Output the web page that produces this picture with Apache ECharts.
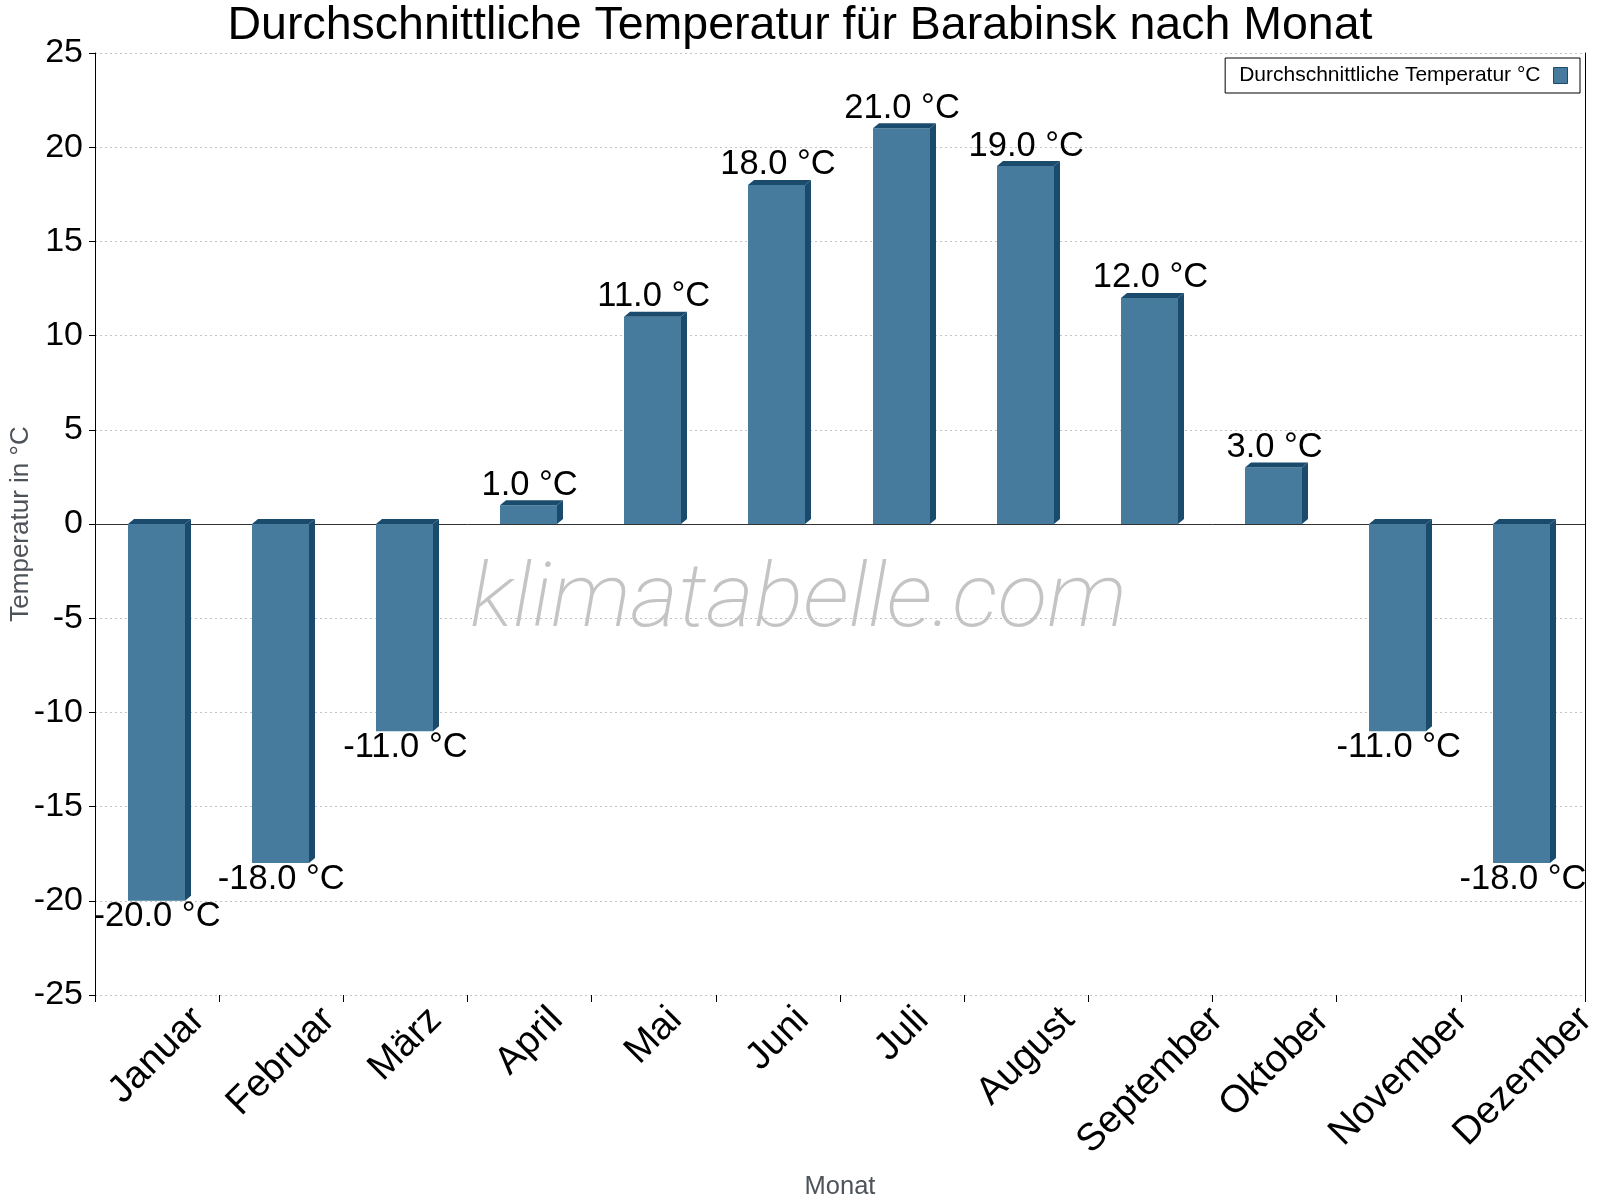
<!DOCTYPE html>
<html><head><meta charset="utf-8">
<script src="https://cdn.jsdelivr.net/npm/echarts@6/dist/echarts.min.js"></script>
<style>html,body{margin:0;padding:0;background:#fff}#c{width:1600px;height:1200px}</style>
</head><body><div id="c"></div>
<script>
const months = ['Januar','Februar','März','April','Mai','Juni','Juli','August','September','Oktober','November','Dezember'];
const temps = [-20, -18, -11, 1, 11, 18, 21, 19, 12, 3, -11, -18];
const seriesName = 'Durchschnittliche Temperatur °C';
const titleText = 'Durchschnittliche Temperatur für Barabinsk nach Monat';

const FONT = '"Liberation Sans", Arial, sans-serif';
const FRONT = '#467b9d';
const DARK = '#1a4b6d';
const XFS = 38.5;

const mc = document.createElement('canvas').getContext('2d');
mc.font = XFS + 'px "Liberation Sans"';
const rich = {};
months.forEach((m, i) => {
  const L = mc.measureText(m).width;
  const P = 0.5 * L;
  rich['l' + i] = {fontSize: XFS, fontFamily: FONT, color: '#000', padding: [P, P, 0, 0]};
});

mc.font = 'italic 200 88px Roboto';
const wmW = mc.measureText('klimatabelle.com').width;
const wmScale = 657 / wmW;

const chart = echarts.init(document.getElementById('c'), null, {renderer: 'canvas'});
chart.setOption({
  animation: false,
  backgroundColor: '#fff',
  title: {
    text: titleText, left: 'center', top: -2,
    textStyle: {fontSize: 46.5, fontWeight: 'normal', color: '#000', fontFamily: FONT}
  },
  legend: {
    right: 20, top: 58,
    orient: 'horizontal', align: 'right',
    borderColor: '#000', borderWidth: 1, borderRadius: 0,
    padding: [7, 12, 7, 14],
    itemWidth: 14, itemHeight: 16,
    textStyle: {fontSize: 21, color: '#000', fontFamily: FONT, padding: [0, 8, 0, 0]},
    data: [{name: seriesName, icon: 'rect', itemStyle: {color: FRONT, borderColor: DARK, borderWidth: 1}}]
  },
  graphic: [{
    type: 'text', left: 470, top: 560, z: 0, silent: true,
    scaleX: wmScale,
    style: {text: 'klimatabelle.com', font: 'italic 200 88px Roboto', fill: '#c4c4c4'}
  }],
  grid: {left: 95, top: 53, width: 1490, height: 942, containLabel: false, outerBoundsMode: 'none'},
  xAxis: {
    type: 'category', data: months, position: 'bottom',
    axisLine: {show: false, onZero: false},
    axisTick: {show: true, length: 7, inside: false, lineStyle: {color: '#000'}},
    axisLabel: {
      interval: 0, rotate: 45, align: 'center', verticalAlign: 'middle', margin: 19,
      formatter: (v, i) => '{l' + i + '|' + v + '}', rich: rich
    },
    name: 'Monat', nameLocation: 'middle', nameGap: 179, nameMoveOverlap: false,
    nameTextStyle: {fontSize: 25.5, color: '#4d5359', fontFamily: FONT}
  },
  yAxis: [{
    type: 'value', min: -25, max: 25, interval: 5,
    axisLine: {show: true, lineStyle: {color: '#000'}},
    axisTick: {show: true, length: 6, lineStyle: {color: '#000'}},
    axisLabel: {fontSize: 34, color: '#000', fontFamily: FONT, margin: 12},
    splitLine: {show: true, lineStyle: {color: '#c4c4c4', type: [2, 3], width: 1}},
    name: 'Temperatur in °C', nameLocation: 'middle', nameGap: 61, nameMoveOverlap: false,
    nameTextStyle: {fontSize: 26, color: '#4d5359', fontFamily: FONT}
  }, {
    type: 'value', min: -25, max: 25, interval: 5, position: 'right',
    axisLine: {show: true, lineStyle: {color: '#000'}},
    axisTick: {show: false}, axisLabel: {show: false}, splitLine: {show: false}
  }],
  series: [{
    name: seriesName, type: 'custom', z: 3,
    itemStyle: {color: FRONT},
    data: temps.map((t, i) => [i, t]),
    encode: {x: 0, y: 1},
    renderItem: function (params, api) {
      const idx = api.value(0), v = api.value(1);
      const c = api.coord([idx, v]);
      const z0 = api.coord([idx, 0]);
      const band = api.size([1, 0])[0];
      const w = band * 0.46;
      const x0 = Math.round(c[0] - w / 2 - 1), x1 = Math.round(x0 + w);
      const yTop = Math.min(c[1], z0[1]), yBot = Math.max(c[1], z0[1]);
      const dx = 6, dy = 5;
      const label = v.toFixed(1) + ' °C';
      const ly = v >= 0 ? yTop - 20 : yBot + 16;
      return {
        type: 'group',
        children: [
          {type: 'rect', shape: {x: x0, y: yTop, width: x1 - x0, height: yBot - yTop}, style: {fill: FRONT}},
          {type: 'polygon', shape: {points: [[x0, yTop], [x0 + dx, yTop - dy], [x1 + dx, yTop - dy], [x1, yTop]]}, style: {fill: DARK}},
          {type: 'polygon', shape: {points: [[x1, yTop], [x1 + dx, yTop - dy], [x1 + dx, yBot - dy], [x1, yBot]]}, style: {fill: DARK}},
          {type: 'text', x: c[0], y: ly, z2: 10, style: {text: label, x: 0, y: 0, align: 'center', verticalAlign: 'middle', font: '34.5px ' + FONT, fill: '#000'}}
        ]
      };
    },
    markLine: {
      silent: true, symbol: 'none', z: 1,
      label: {show: false},
      lineStyle: {color: '#333', type: 'solid', width: 1},
      data: [{yAxis: 0}]
    }
  }]
});
</script></body></html>
